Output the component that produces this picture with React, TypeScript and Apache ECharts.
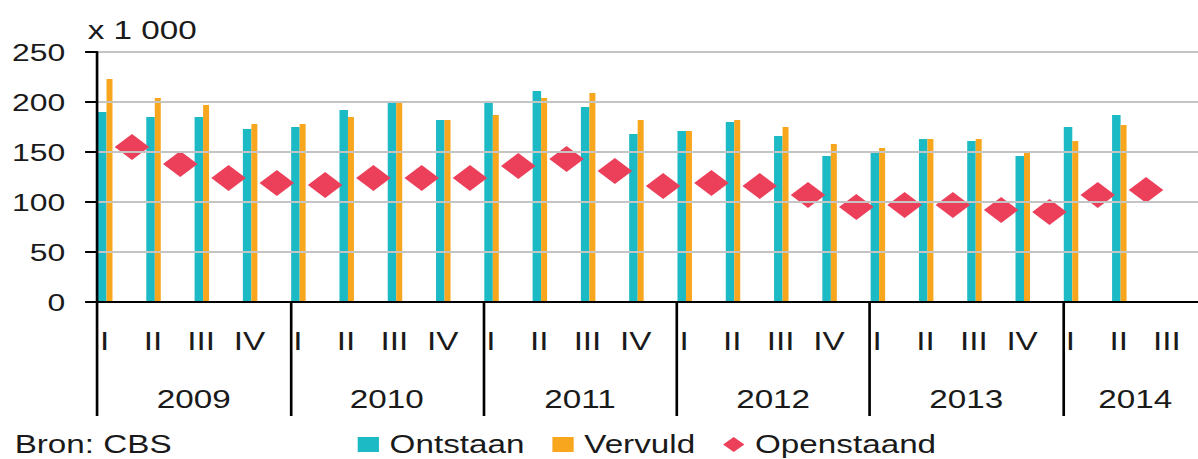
import React, { useEffect, useRef } from "react";
import * as echarts from "echarts";

// ---- data ----
const quarters = [
  "I", "II", "III", "IV",
  "I", "II", "III", "IV",
  "I", "II", "III", "IV",
  "I", "II", "III", "IV",
  "I", "II", "III", "IV",
  "I", "II", "III",
];
const years = ["2009", "2010", "2011", "2012", "2013", "2014"];
const quartersPerYear = [4, 4, 4, 4, 4, 3];
const yTicks = [0, 50, 100, 150, 200, 250];

const ontstaan = [190, 185, 185, 173, 175, 192, 200, 182, 200, 211, 195, 168, 171, 180, 166, 146, 151, 163, 161, 146, 175, 187, null];
const vervuld = [223, 204, 197, 178, 178, 185, 200, 182, 187, 204, 209, 182, 171, 182, 175, 158, 154, 163, 163, 151, 161, 177, null];
const openstaand = [155, 138, 124, 119, 117, 124, 124, 124, 136, 143, 131, 116, 119, 116, 107, 95, 97, 97, 92, 90, 107, 112, null];

// ---- layout (unstretched coordinates; the picture is stretched horizontally) ----
const STRETCH = 1198 / 901;
const W = 901;
const H = 459;
const GRID_LEFT = 73;
const GRID_WIDTH = 835.3;
const GRID_TOP = 52;
const GRID_HEIGHT = 250;
const BAR_SHIFT = 12;
const DIAMOND_SHIFT = 8.1;

const TEAL = "#1CBAC5";
const ORANGE = "#F8A61E";
const RED = "#EC3F5A";
const TXT = "#1a1a1a";
const FONT = "Liberation Sans, Arial, sans-serif";

export default function App() {
  const ref = useRef<HTMLDivElement>(null);

  useEffect(() => {
    document.body.style.margin = "0";
    if (!ref.current) return;
    const chart = echarts.init(ref.current, undefined, { renderer: "svg" });

    const yearCenters: number[] = [];
    let acc = 0;
    quartersPerYear.forEach((n) => {
      yearCenters.push(acc + n / 2);
      acc += n;
    });

    const option: any = {
      animation: false,
      backgroundColor: "#ffffff",
      textStyle: { fontFamily: FONT, color: TXT },
      title: [
        {
          text: "x 1 000",
          left: 66,
          top: 18,
          padding: 0,
          textStyle: { fontFamily: FONT, fontSize: 25, fontWeight: "normal", color: TXT },
        },
        {
          text: "Bron: CBS",
          left: 11,
          top: 432,
          padding: 0,
          textStyle: { fontFamily: FONT, fontSize: 25, fontWeight: "normal", color: TXT },
        },
      ],
      legend: {
        data: [
          { name: "Ontstaan", icon: "rect" },
          { name: "Vervuld", icon: "rect" },
          { name: "Openstaand", icon: "diamond" },
        ],
        left: 269,
        top: 432,
        padding: 0,
        itemWidth: 16,
        itemHeight: 15,
        itemGap: 21,
        textStyle: { fontFamily: FONT, fontSize: 25, color: TXT, padding: [0, 0, 0, 3] },
        selectedMode: false,
      },
      grid: [
        {
          left: GRID_LEFT, top: GRID_TOP, width: GRID_WIDTH, height: GRID_HEIGHT,
          containLabel: false, outerBoundsMode: "none",
        },
        {
          left: GRID_LEFT - BAR_SHIFT, top: GRID_TOP, width: GRID_WIDTH, height: GRID_HEIGHT,
          containLabel: false, outerBoundsMode: "none",
        },
      ],
      xAxis: [
        {
          type: "category",
          gridIndex: 0,
          data: quarters,
          boundaryGap: true,
          position: "bottom",
          axisLine: { show: true, lineStyle: { color: "#000", width: 2 } },
          axisTick: {
            show: true,
            interval: (i: number) => i % 4 === 0,
            length: 114,
            lineStyle: { color: "#000", width: 2 },
          },
          axisLabel: {
            interval: 0,
            fontFamily: FONT,
            fontSize: 25,
            color: TXT,
            margin: 27,
            padding: [0, 25, 0, 0],
          },
          splitLine: { show: false },
          z: 5,
        },
        {
          type: "value",
          gridIndex: 0,
          min: 0,
          max: quarters.length,
          position: "bottom",
          axisLine: { show: false },
          axisTick: { show: false },
          splitLine: { show: false },
          axisLabel: {
            show: true,
            customValues: yearCenters,
            formatter: (v: number) => {
              const i = yearCenters.findIndex((c) => Math.abs(c - v) < 1e-6);
              return i >= 0 ? years[i] : "";
            },
            fontFamily: FONT,
            fontSize: 25,
            color: TXT,
            margin: 85,
          },
        },
        {
          type: "category",
          gridIndex: 1,
          data: quarters,
          boundaryGap: true,
          show: false,
        },
      ],
      yAxis: [
        {
          type: "value",
          gridIndex: 0,
          min: 0,
          max: 250,
          interval: 50,
          axisLine: { show: true, lineStyle: { color: "#000", width: 2 } },
          axisTick: { show: true, length: 9, lineStyle: { color: "#000", width: 2 } },
          axisLabel: {
            fontFamily: FONT,
            fontSize: 24,
            color: TXT,
            margin: 24,
            customValues: yTicks,
          },
          splitLine: { show: true, lineStyle: { color: "#c4c4c4", width: 2 } },
          z: 5,
        },
        {
          type: "value",
          gridIndex: 1,
          min: 0,
          max: 250,
          interval: 50,
          show: false,
          splitLine: { show: false },
        },
      ],
      series: [
        {
          name: "Ontstaan",
          type: "bar",
          xAxisIndex: 2,
          yAxisIndex: 1,
          data: ontstaan,
          barWidth: 6.4,
          barGap: "0%",
          itemStyle: { color: TEAL },
          z: 2,
        },
        {
          name: "Vervuld",
          type: "bar",
          xAxisIndex: 2,
          yAxisIndex: 1,
          data: vervuld,
          barWidth: 4.5,
          barGap: "0%",
          itemStyle: { color: ORANGE },
          z: 2,
        },
        {
          name: "Openstaand",
          type: "scatter",
          xAxisIndex: 0,
          yAxisIndex: 0,
          data: openstaand,
          symbol: "diamond",
          symbolSize: [26, 26],
          symbolOffset: [DIAMOND_SHIFT, 0],
          itemStyle: { color: RED, opacity: 1 },
          z: 3,
        },
      ],
    };

    chart.setOption(option);
    return () => chart.dispose();
  }, []);

  return (
    <div style={{ width: 1198, height: H, overflow: "hidden", position: "relative" }}>
      <div
        ref={ref}
        style={{
          width: W,
          height: H,
          transform: `scaleX(${STRETCH})`,
          transformOrigin: "0 0",
        }}
      />
    </div>
  );
}
